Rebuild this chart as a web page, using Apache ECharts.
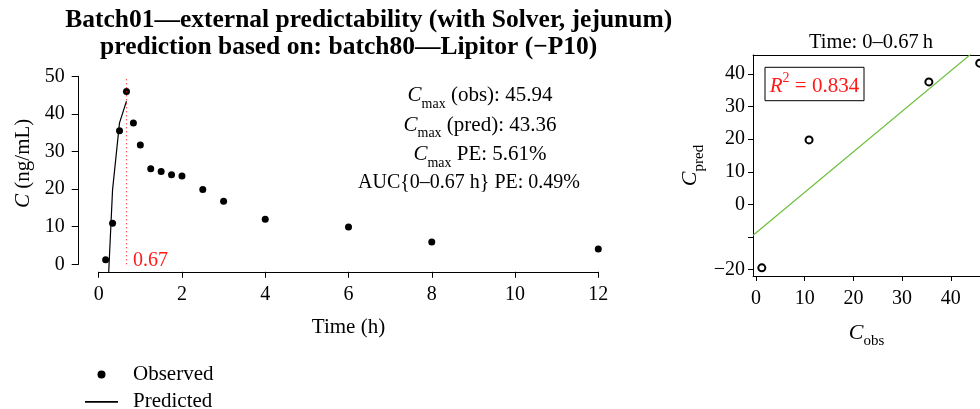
<!DOCTYPE html>
<html><head><meta charset="utf-8">
<script src="https://cdn.jsdelivr.net/npm/echarts@6/dist/echarts.min.js"></script>
<style>html,body{margin:0;padding:0;background:#fff}#c{width:980px;height:409px}</style>
</head><body><div id="c"></div>
<script>
// ---- data ----
const obsTime = [0.167, 0.333, 0.5, 0.667, 0.833, 1, 1.25, 1.5, 1.75, 2, 2.5, 3, 4, 6, 8, 12];
const obsConc = [1.2, 10.9, 35.5, 45.94, 37.6, 31.7, 25.4, 24.7, 23.8, 23.5, 19.9, 16.8, 12.0, 9.9, 5.9, 4.1];
const predTime = [0.167, 0.333, 0.5, 0.667];
const predConc = [-19.5, 19.8, 37.6, 43.36];
const cutoffTime = 0.67;
const timeTicks = [0, 2, 4, 6, 8, 10, 12];
const concTicks = [0, 10, 20, 30, 40, 50];
const corrXTicks = [0, 10, 20, 30, 40];
const corrYTicks = [-20, -10, 0, 10, 20, 30, 40];
const corrYLabels = [-20, 0, 10, 20, 30, 40];
const fitSlope = 1.244;
const fitIntercept = -8.75;
const r2Text = '0.834';
const annLines = [
  ['C', 'max', ' (obs): 45.94'],
  ['C', 'max', ' (pred): 43.36'],
  ['C', 'max', ' PE: 5.61%'],
  ['', '', 'AUC{0\u20130.67 h} PE: 0.49%']
];
const title1 = 'Batch01\u2014external predictability (with Solver, jejunum)';
const title2 = 'prediction based on: batch80\u2014Lipitor (\u2212P10)';
const corrTitle = 'Time: 0\u20130.67\u2009h';

// ---- derived pairs ----
const obsData = obsTime.map((t, i) => [t, obsConc[i]]);
const predData = predTime.map((t, i) => [t, predConc[i]]);
const corrData = predConc.map((p, i) => [obsConc[i], p]);
// right panel: visible part of the plot region (it runs past the page edge)
const cxMin = -0.59, cxMax = 46.0, cyMin = -22.0, cyMax = 45.87;
const fitData = [[cxMin, fitIntercept + fitSlope * cxMin], [cxMax, fitIntercept + fitSlope * cxMax]];

const FF = 'Liberation Serif';
const RED = '#ff1a1a';
const chart = echarts.init(document.getElementById('c'), null, {renderer: 'canvas'});

function subRich(size, subSize, drop, colorKey) {
  const c = {};
  c[colorKey] = '#000';
  return {
    i: Object.assign({fontFamily: FF, fontStyle: 'italic', fontSize: size, verticalAlign: 'bottom', padding: [0, 0, drop, 0]}, c),
    s: Object.assign({fontFamily: FF, fontSize: subSize, verticalAlign: 'bottom'}, c),
    n: Object.assign({fontFamily: FF, fontSize: size, verticalAlign: 'bottom', padding: [0, 0, drop, 0]}, c)
  };
}

const annCenters = [94, 123.5, 153, 183];
const annX = [480, 480, 480, 469];
const graphics = [
  {type: 'text', x: 368.7, y: 20, style: {text: title1, fontFamily: FF, fontWeight: 'bold', fontSize: 25.5, fill: '#000', textAlign: 'center', textVerticalAlign: 'middle'}},
  {type: 'text', x: 348.7, y: 47, style: {text: title2, fontFamily: FF, fontWeight: 'bold', fontSize: 25.5, fill: '#000', textAlign: 'center', textVerticalAlign: 'middle'}},
  {type: 'text', x: 871, y: 43, style: {text: corrTitle, fontFamily: FF, fontSize: 20.5, fill: '#000', textAlign: 'center', textVerticalAlign: 'middle'}},
  {type: 'rect', shape: {x: 765, y: 67.3, width: 99, height: 33.4}, style: {fill: '#fff', stroke: '#000', lineWidth: 1}, z: 10},
  {type: 'text', x: 814.5, y: 84, z: 11, style: {
    text: '{i|R}{p|2}{n| = ' + r2Text + '}', textAlign: 'center', textVerticalAlign: 'middle',
    rich: {
      i: {fontFamily: FF, fontStyle: 'italic', fontSize: 21, lineHeight: 26, verticalAlign: 'bottom', fill: RED},
      p: {fontFamily: FF, fontSize: 14, lineHeight: 16, verticalAlign: 'top', fill: RED},
      n: {fontFamily: FF, fontSize: 21, lineHeight: 26, verticalAlign: 'bottom', fill: RED}
    }
  }}
];
annLines.forEach((l, k) => {
  if (l[0]) {
    graphics.push({type: 'text', x: annX[k], y: annCenters[k] + 4, style: {
      text: '{i|' + l[0] + '}{s|' + l[1] + '}{n|' + l[2] + '}', rich: subRich(21, 14, 5, 'fill'),
      textAlign: 'center', textVerticalAlign: 'middle'}});
  } else {
    graphics.push({type: 'text', x: annX[k], y: annCenters[k], style: {
      text: l[2], fontFamily: FF, fontSize: 20, fill: '#000', textAlign: 'center', textVerticalAlign: 'middle'}});
  }
});

const lblStyle = {color: '#000', fontFamily: FF, fontSize: 20};

chart.setOption({
  animation: false,
  backgroundColor: '#fff',
  graphic: graphics,
  legend: {
    orient: 'vertical', left: 85, top: 364, height: 80, padding: 0, itemWidth: 33, itemHeight: 8, itemGap: 6.4,
    data: [{name: 'Observed', icon: 'circle', itemStyle: {color: '#000', opacity: 1}},
           {name: 'Predicted', icon: 'path://M0,0H33V1.6H0Z', itemStyle: {color: '#000', opacity: 1}}],
    textStyle: {color: '#000', fontFamily: FF, fontSize: 21, padding: [0, 0, 0, 10]}
  },
  grid: [
    {left: 98.7, top: 76.3, width: 499.6, height: 188},
    {left: 78.7, top: 68.8, width: 539.6, height: 203},
    {left: 753.1, top: 55, right: 0, height: 221}
  ],
  xAxis: [
    {gridIndex: 0, type: 'value', min: 0, max: 12, offset: 7.5, splitLine: {show: false},
     axisLine: {show: true, onZero: false, lineStyle: {color: '#000', width: 1}},
     axisTick: {show: true, length: 6, lineStyle: {color: '#000'}, customValues: timeTicks},
     axisLabel: Object.assign({margin: 13, customValues: timeTicks}, lblStyle),
     name: 'Time (h)', nameLocation: 'middle', nameGap: 45,
     nameTextStyle: {color: '#000', fontFamily: FF, fontSize: 21}},
    {gridIndex: 1, type: 'value', min: -0.48, max: 12.48, show: false},
    {gridIndex: 2, type: 'value', min: cxMin, max: cxMax, splitLine: {show: false},
     axisLine: {show: true, onZero: false, lineStyle: {color: '#000'}},
     axisTick: {show: true, length: 5, lineStyle: {color: '#000'}, customValues: corrXTicks},
     axisLabel: Object.assign({margin: 13, customValues: corrXTicks}, lblStyle),
     name: '{i|C}{s|obs}', nameLocation: 'middle', nameGap: 46,
     nameTextStyle: {rich: subRich(22, 15, 5, 'color')}},
    {gridIndex: 2, type: 'value', position: 'top', min: cxMin, max: cxMax, splitLine: {show: false},
     axisLine: {show: true, onZero: false, lineStyle: {color: '#000'}},
     axisTick: {show: false}, axisLabel: {show: false}}
  ],
  yAxis: [
    {gridIndex: 0, type: 'value', min: 0, max: 50, offset: 20, splitLine: {show: false},
     axisLine: {show: true, onZero: false, lineStyle: {color: '#000', width: 1}},
     axisTick: {show: true, length: 7, lineStyle: {color: '#000'}, customValues: concTicks},
     axisLabel: Object.assign({margin: 14, customValues: concTicks}, lblStyle),
     name: '{i|C}{n| (ng/mL)}', nameLocation: 'middle', nameGap: 44, nameRotate: 90,
     nameTextStyle: {padding: [0, 0, 0, 14], rich: {
       i: {fontFamily: FF, fontStyle: 'italic', fontSize: 21, color: '#000'},
       n: {fontFamily: FF, fontSize: 21, color: '#000'}}}},
    {gridIndex: 1, type: 'value', min: -2, max: 52, show: false},
    {gridIndex: 2, type: 'value', min: cyMin, max: cyMax, splitLine: {show: false},
     axisLine: {show: true, onZero: false, lineStyle: {color: '#000'}},
     axisTick: {show: true, length: 5, lineStyle: {color: '#000'}, customValues: corrYTicks},
     axisLabel: Object.assign({margin: 8, customValues: corrYLabels,
       formatter: v => (v < 0 ? '\u2212' + Math.abs(v) : String(v))}, lblStyle),
     name: '{i|C}{s|pred}', nameLocation: 'middle', nameGap: 47, nameRotate: 90,
     nameTextStyle: {rich: subRich(22, 15, 5, 'color')}}
  ],
  series: [
    {name: 'Observed', type: 'scatter', xAxisIndex: 0, yAxisIndex: 0, data: obsData, clip: false,
     symbol: 'circle', symbolSize: 7, itemStyle: {color: '#000', opacity: 1},
     markLine: {silent: true, symbol: ['none', 'none'], label: {show: false},
       lineStyle: {color: RED, type: [1, 3], width: 1.2, opacity: 1}, data: [{xAxis: cutoffTime}]}},
    {name: 'cutoffLabel', type: 'scatter', xAxisIndex: 0, yAxisIndex: 0, data: [[cutoffTime, 0]],
     symbolSize: 1, itemStyle: {color: 'rgba(0,0,0,0)'}, silent: true, clip: false,
     label: {show: true, position: 'right', distance: 6, offset: [0, -4], formatter: String(cutoffTime),
       color: RED, opacity: 1, fontFamily: FF, fontSize: 20}},
    {name: 'Predicted', type: 'line', xAxisIndex: 1, yAxisIndex: 1, data: predData, clip: true,
     symbol: 'none', lineStyle: {color: '#000', width: 1.2}, itemStyle: {color: '#000'}},
    {name: 'fit', type: 'line', xAxisIndex: 2, yAxisIndex: 2, data: fitData, clip: true,
     symbol: 'none', lineStyle: {color: '#6cbf3c', width: 1.2}},
    {name: 'corr', type: 'scatter', xAxisIndex: 2, yAxisIndex: 2, data: corrData, clip: false,
     symbol: 'emptyCircle', symbolSize: 7, itemStyle: {color: '#000', borderWidth: 1.2, opacity: 1}}
  ]
});
</script></body></html>
